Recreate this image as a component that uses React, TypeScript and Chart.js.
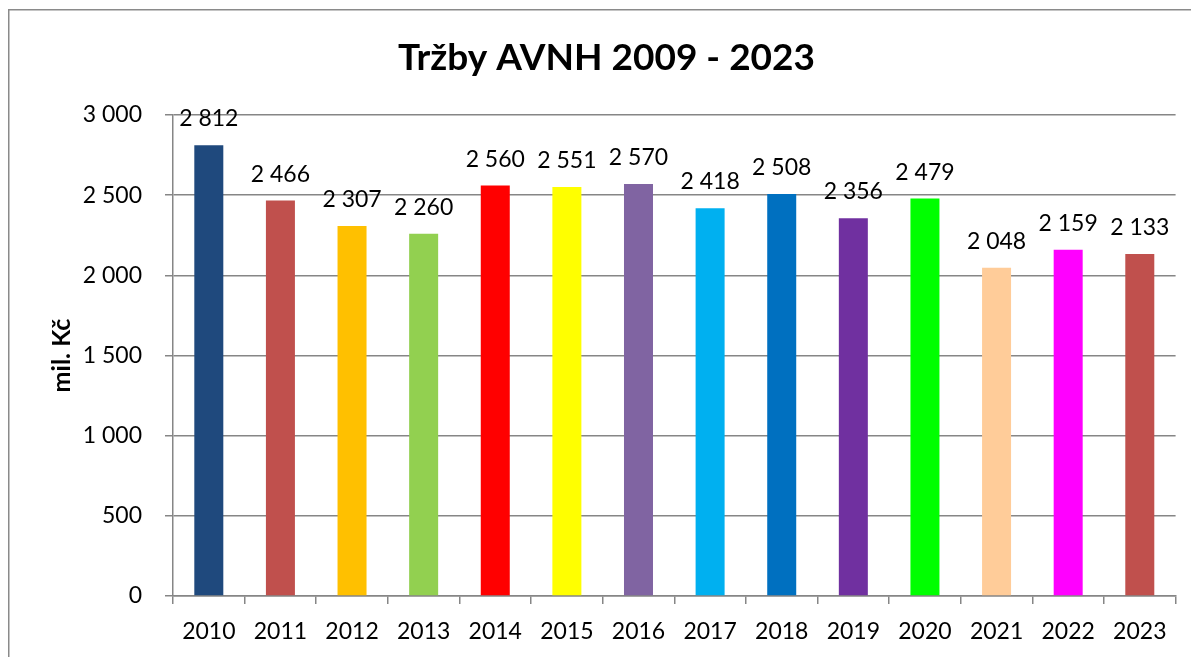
import React, { useEffect, useRef } from "react";
import { Chart, registerables } from "chart.js";

Chart.register(...registerables);

const TITLE = "Tržby AVNH 2009 - 2023";
const Y_TITLE = "mil. Kč";
const YEARS = ["2010", "2011", "2012", "2013", "2014", "2015", "2016", "2017", "2018", "2019", "2020", "2021", "2022", "2023"];
const VALUES = [2812, 2466, 2307, 2260, 2560, 2551, 2570, 2418, 2508, 2356, 2479, 2048, 2159, 2133];
const COLORS = ["#1F497D", "#C0504D", "#FFC000", "#92D050", "#FF0000", "#FFFF00", "#8064A2", "#00B0F0", "#0070C0", "#7030A0", "#00FF00", "#FFCC99", "#FF00FF", "#C0504D"];
const Y_MIN = 0;
const Y_MAX = 3000;
const Y_STEP = 500;

const FONT = "Lato, 'Open Sans', sans-serif";
const GRID = "#868686";

const fmt = (v: number) => {
  const s = Math.round(v).toString();
  return s.replace(/\B(?=(\d{3})+(?!\d))/g, " ");
};

const decor = {
  id: "decor",
  afterDraw(chart: any) {
    const ctx = chart.ctx;
    ctx.save();
    // outer frame (left and top only visible)
    ctx.fillStyle = "#8a8a8a";
    ctx.fillRect(0, 1, chart.width, 1.5);
    ctx.fillRect(0, 1, 1.5, chart.height);
    // title
    ctx.fillStyle = "#000";
    ctx.font = `bold 37px ${FONT}`;
    ctx.textAlign = "center";
    ctx.textBaseline = "alphabetic";
    ctx.fillText(TITLE, 598.5, 62);
    // data labels
    ctx.font = `23px ${FONT}`;
    const meta = chart.getDatasetMeta(0);
    meta.data.forEach((bar: any, i: number) => {
      ctx.fillText(fmt(VALUES[i]), bar.x, bar.y - 19);
    });
    ctx.restore();
  },
};

export default function App() {
  const ref = useRef<HTMLCanvasElement>(null);
  useEffect(() => {
    if (!ref.current) return;
    const chart = new Chart(ref.current, {
      type: "bar",
      data: {
        labels: YEARS,
        datasets: [
          {
            data: VALUES,
            backgroundColor: COLORS,
            borderWidth: 0,
            barPercentage: 0.405,
            categoryPercentage: 1,
          },
        ],
      },
      options: {
        responsive: false,
        animation: false,
        layout: { padding: { top: 107, right: 23.4, left: 0, bottom: 0 } },
        plugins: { legend: { display: false }, tooltip: { enabled: false }, title: { display: false } },
        scales: {
          x: {
            afterFit: (s: any) => {
              s.height = 61;
            },
            grid: { display: true, drawOnChartArea: false, offset: true, tickLength: 8, color: GRID, lineWidth: 1.5 },
            border: { display: true, color: GRID, width: 1.5 },
            ticks: { color: "#000", font: { family: FONT, size: 23 }, padding: 14, maxRotation: 0 },
          },
          y: {
            min: Y_MIN,
            max: Y_MAX,
            afterFit: (s: any) => {
              s.width = 165;
            },
            grid: { color: GRID, lineWidth: 1.5, tickLength: 8 },
            border: { display: true, color: GRID, width: 1.5 },
            ticks: {
              stepSize: Y_STEP,
              color: "#000",
              font: { family: FONT, size: 23 },
              padding: 23,
              callback: (v: any) => fmt(Number(v)),
            },
            title: {
              display: true,
              text: Y_TITLE,
              color: "#000",
              font: { family: FONT, size: 25, weight: "bold" },
              padding: { top: 39, bottom: 0 },
            },
          },
        },
      },
      plugins: [decor],
    });
    return () => chart.destroy();
  }, []);
  return (
    <div style={{ width: 1191, height: 649 }}>
      <canvas ref={ref} width={1191} height={649} style={{ display: "block" }} />
    </div>
  );
}
